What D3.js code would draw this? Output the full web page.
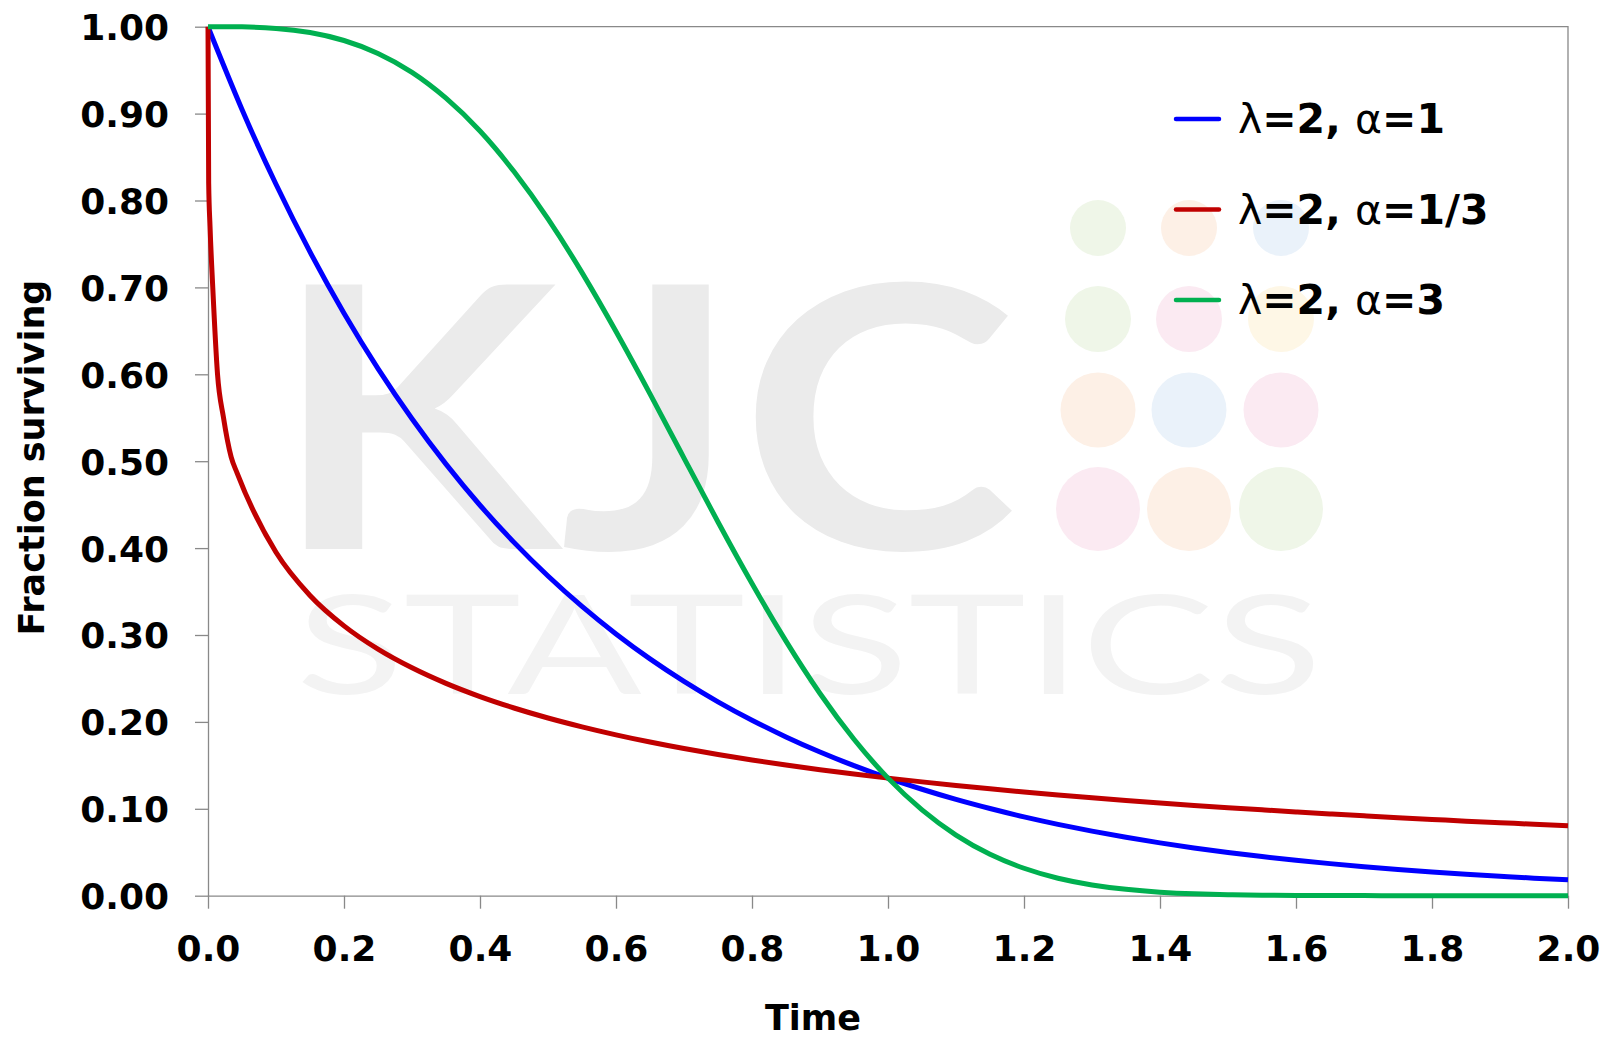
<!DOCTYPE html>
<html>
<head>
<meta charset="utf-8">
<script src="https://cdn.jsdelivr.net/npm/d3@7"></script>
<style>
  html, body { margin: 0; padding: 0; background: #fff; }
  svg { display: block; }
</style>
</head>
<body>
<div id="chart"></div>
<script>
// survival curves, values

const times = [0, 0.05, 0.10, 0.15, 0.20, 0.25, 0.30, 0.35, 0.40, 0.45, 0.50,
  0.55, 0.60, 0.65, 0.70, 0.75, 0.80, 0.85, 0.90, 0.95, 1.00,
  1.05, 1.10, 1.15, 1.20, 1.25, 1.30, 1.35, 1.40, 1.45, 1.50,
  1.55, 1.60, 1.65, 1.70, 1.75, 1.80, 1.85, 1.90, 1.95, 2.00];

const blueValues = [1.0000, 0.9048, 0.8187, 0.7408, 0.6703, 0.6065, 0.5488, 0.4966, 0.4493, 0.4066, 0.3679,
  0.3329, 0.3012, 0.2725, 0.2466, 0.2231, 0.2019, 0.1827, 0.1653, 0.1496, 0.1353,
  0.1225, 0.1108, 0.1003, 0.0907, 0.0821, 0.0743, 0.0672, 0.0608, 0.0550, 0.0498,
  0.0450, 0.0408, 0.0369, 0.0334, 0.0302, 0.0273, 0.0247, 0.0224, 0.0202, 0.0183];

const greenValues = [1.0000, 0.9998, 0.9980, 0.9933, 0.9841, 0.9692, 0.9474, 0.9177, 0.8799, 0.8333, 0.7788,
  0.7170, 0.6492, 0.5775, 0.5036, 0.4300, 0.3592, 0.2929, 0.2327, 0.1800, 0.1353,
  0.0988, 0.0698, 0.0477, 0.0316, 0.0201, 0.0124, 0.0073, 0.0041, 0.0022, 0.0012,
  0.0006, 0.0003, 0.0001, 0.0001, 0, 0, 0, 0, 0, 0];

// the red one drops fast near zero, so it has extra early readings
const redTimes = [0, 0.001, 0.003, 0.007, 0.014, 0.0226, 0.034, 0.043,
  0.10, 0.15, 0.20, 0.25, 0.30, 0.35, 0.40, 0.45, 0.50,
  0.55, 0.60, 0.65, 0.70, 0.75, 0.80, 0.85, 0.90, 0.95, 1.00,
  1.05, 1.10, 1.15, 1.20, 1.25, 1.30, 1.35, 1.40, 1.45, 1.50,
  1.55, 1.60, 1.65, 1.70, 1.75, 1.80, 1.85, 1.90, 1.95, 2.00];

const redValues = [1.0000, 0.8200, 0.7700, 0.7000, 0.6000, 0.5510, 0.5050, 0.4860,
  0.3952, 0.3455, 0.3105, 0.2837, 0.2622, 0.2443, 0.2291, 0.2160, 0.2045,
  0.1943, 0.1851, 0.1768, 0.1693, 0.1625, 0.1562, 0.1504, 0.1450, 0.1400, 0.1353,
  0.1310, 0.1269, 0.1230, 0.1194, 0.1160, 0.1127, 0.1096, 0.1067, 0.1039, 0.1013,
  0.0988, 0.0964, 0.0941, 0.0919, 0.0898, 0.0878, 0.0858, 0.0840, 0.0822, 0.0805];

const seriesNames = ["λ=2, α=1", "λ=2, α=1/3", "λ=2, α=3"];
const seriesColors = ["#0000ff", "#c00000", "#00b050"];

const xTicks = [0, 0.2, 0.4, 0.6, 0.8, 1.0, 1.2, 1.4, 1.6, 1.8, 2.0];
const yTicks = [0, 0.1, 0.2, 0.3, 0.4, 0.5, 0.6, 0.7, 0.8, 0.9, 1.0];

const W = 1610, H = 1038;
const plot = { left: 208, right: 1568, top: 26.7, bottom: 895.7 };
const FONT = "'DejaVu Sans', Verdana, sans-serif";
const AXIS_GREY = "#898989";

const svg = d3.select("#chart").append("svg")
  .attr("width", W).attr("height", H);

// --- watermark (behind everything) ---
// one text element for both words, they sit tight on top of each other
const wm = svg.append("g").attr("class", "watermark");
const wmText = wm.append("text")
  .style("font-family", "Lato, 'Liberation Sans', sans-serif");
wmText.append("tspan")
  .attr("x", 272).attr("y", 549)
  .attr("textLength", 745).attr("lengthAdjust", "spacingAndGlyphs")
  .style("font-weight", 700)
  .style("font-size", "366px")
  .style("fill", "#ebebeb")
  .text("KJC");
wmText.append("tspan")
  .attr("x", 296).attr("y", 694)
  .attr("textLength", 1026).attr("lengthAdjust", "spacingAndGlyphs")
  .style("font-weight", 400)
  .style("font-size", "137px")
  .style("fill", "#f3f3f3")
  .text("STATISTICS");

const dotCols = [1098, 1189, 1281];
const dotRows = [{ y: 228, r: 28 }, { y: 319, r: 33 }, { y: 410, r: 37.5 }, { y: 509, r: 42 }];
const dotColors = [
  ["#eff6e8", "#fdf0e6", "#eaf2fa"],
  ["#eff6e8", "#fbeaf2", "#fef7e6"],
  ["#fdf0e6", "#eaf2fa", "#fbeaf2"],
  ["#fbeaf2", "#fdf0e6", "#eff6e8"]
];
dotRows.forEach((row, i) => {
  dotCols.forEach((cx, j) => {
    wm.append("circle")
      .attr("cx", cx).attr("cy", row.y).attr("r", row.r)
      .attr("fill", dotColors[i][j]);
  });
});

// --- scales ---
const x = d3.scaleLinear().domain([0, 2]).range([plot.left, plot.right]);
const y = d3.scaleLinear().domain([0, 1]).range([plot.bottom, plot.top]);

// plot border (top and right)
svg.append("path")
  .attr("d", `M${plot.left},${plot.top}H${plot.right}V${plot.bottom}`)
  .attr("fill", "none")
  .attr("stroke", AXIS_GREY)
  .attr("stroke-width", 1.3);

// --- axes ---
const yAxis = svg.append("g")
  .attr("transform", `translate(${plot.left},0)`)
  .call(d3.axisLeft(y).tickValues(yTicks).tickSize(13).tickSizeOuter(0)
    .tickPadding(26).tickFormat(d3.format(".2f")));

const xAxis = svg.append("g")
  .attr("transform", `translate(0,${plot.bottom})`)
  .call(d3.axisBottom(x).tickValues(xTicks).tickSize(13).tickSizeOuter(0)
    .tickPadding(0).tickFormat(d3.format(".1f")));

[yAxis, xAxis].forEach(ax => {
  ax.select(".domain").attr("stroke", AXIS_GREY).attr("stroke-width", 1.3);
  ax.selectAll(".tick line").attr("stroke", AXIS_GREY).attr("stroke-width", 1.3);
  ax.selectAll(".tick text")
    .style("font-family", FONT)
    .style("font-weight", "bold")
    .style("font-size", "36px")
    .attr("fill", "#000");
});
yAxis.selectAll(".tick text").attr("dy", "0.36em");
xAxis.selectAll(".tick text").attr("y", 65).attr("dy", 0);

// axis titles
svg.append("text")
  .attr("transform", "translate(44,457.5) rotate(-90)")
  .attr("text-anchor", "middle")
  .style("font-family", FONT)
  .style("font-weight", "bold")
  .style("font-size", "35px")
  .text("Fraction surviving");

svg.append("text")
  .attr("x", 813).attr("y", 1030)
  .attr("text-anchor", "middle")
  .style("font-family", FONT)
  .style("font-weight", "bold")
  .style("font-size", "35px")
  .text("Time");

// --- curves ---
const series = [
  times.map((t, i) => [t, blueValues[i]]),
  redTimes.map((t, i) => [t, redValues[i]]),
  times.map((t, i) => [t, greenValues[i]])
];

// natural spline is smoother; monotone for red so the steep start doesn't overshoot
const smoothLine = d3.line().x(d => x(d[0])).y(d => y(d[1])).curve(d3.curveNatural);
const monoLine = d3.line().x(d => x(d[0])).y(d => y(d[1])).curve(d3.curveMonotoneX);

svg.append("g")
  .selectAll("path")
  .data(series)
  .join("path")
  .attr("d", (d, i) => i === 1 ? monoLine(d) : smoothLine(d))
  .attr("fill", "none")
  .attr("stroke", (d, i) => seriesColors[i])
  .attr("stroke-width", 5)
  .attr("stroke-linejoin", "round");

// --- legend ---
const legendY = [119, 209.5, 300];
const legend = svg.append("g");
seriesNames.forEach((name, i) => {
  const g = legend.append("g").attr("transform", `translate(0,${legendY[i]})`);
  g.append("line")
    .attr("x1", 1176).attr("x2", 1219)
    .attr("stroke", seriesColors[i])
    .attr("stroke-width", 4.5)
    .attr("stroke-linecap", "round");
  const t = g.append("text")
    .attr("x", 1238).attr("y", 14)
    .style("font-family", FONT)
    .style("font-weight", "bold")
    .style("font-size", "41px");
  // greek letters look lighter in the reference
  name.split(/([λα])/).filter(s => s.length).forEach(part => {
    t.append("tspan")
      .style("font-weight", /[λα]/.test(part) ? "normal" : "bold")
      .text(part);
  });
});
</script>
</body>
</html>
